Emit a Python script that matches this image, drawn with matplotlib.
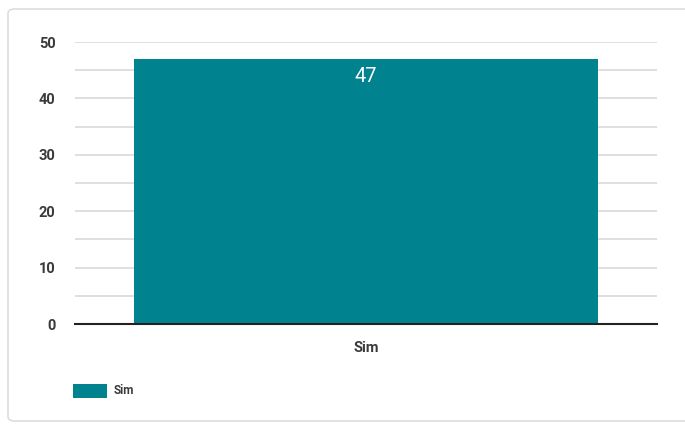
import matplotlib
matplotlib.use('Agg')
import matplotlib.pyplot as plt
from matplotlib.patches import FancyBboxPatch, Rectangle

categories = ['Sim']
values = [47]
series_name = 'Sim'
y_ticks = [0, 10, 20, 30, 40, 50]

plt.rcParams['font.family'] = ['Roboto', 'DejaVu Sans']

fig = plt.figure(figsize=(6.85, 4.24), dpi=100)
W, H = 685, 424

# card background with faint border
card = FancyBboxPatch((8 / W, 3 / H), (W + 20) / W, 412 / H,
                      boxstyle='round,pad=0,rounding_size=0.01',
                      transform=fig.transFigure, facecolor='white',
                      edgecolor='#dddddd', linewidth=1.2, zorder=-10)
fig.patches.append(card)

ax = fig.add_axes([75 / W, 1 - 324 / H, 582 / W, 282 / H])
ax.set_facecolor('none')

bars = ax.bar(range(len(categories)), values, width=0.796, color='#00838f', zorder=3)
for b, v in zip(bars, values):
    ax.text(b.get_x() + b.get_width() / 2, v - 1.4, str(v), ha='center', va='top',
            color='white', fontsize=14.5, zorder=5)

ax.set_xlim(-0.5, 0.5)
ax.set_ylim(0, 50)
ax.set_yticks(y_ticks)
ax.set_yticks(range(5, 50, 10), minor=True)
ax.grid(axis='y', which='both', color='#dcdcdc', linewidth=1.3, zorder=0)
for s in ['top', 'right', 'left']:
    ax.spines[s].set_visible(False)
ax.spines['bottom'].set_color('#222222')
ax.spines['bottom'].set_linewidth(1.5)
ax.spines['bottom'].set_zorder(4)
ax.tick_params(axis='y', which='both', length=0, pad=14, labelsize=10.5, labelcolor='#3a3a3a')
ax.tick_params(axis='x', length=0, pad=12, labelsize=10.5, labelcolor='#3a3a3a')
ax.set_xticks(range(len(categories)))
ax.set_xticklabels(categories)
for t in ax.get_yticklabels() + ax.get_xticklabels():
    t.set_fontweight('bold')

# legend
fig.patches.append(Rectangle((73 / W, 1 - 398 / H), 34 / W, 14 / H,
                             transform=fig.transFigure, facecolor='#00838f', edgecolor='none'))
fig.text(114 / W, 1 - 391 / H, series_name, va='center', ha='left', fontsize=8.5,
         fontweight='bold', color='#3a3a3a')

fig.savefig('out.png', dpi=100)
